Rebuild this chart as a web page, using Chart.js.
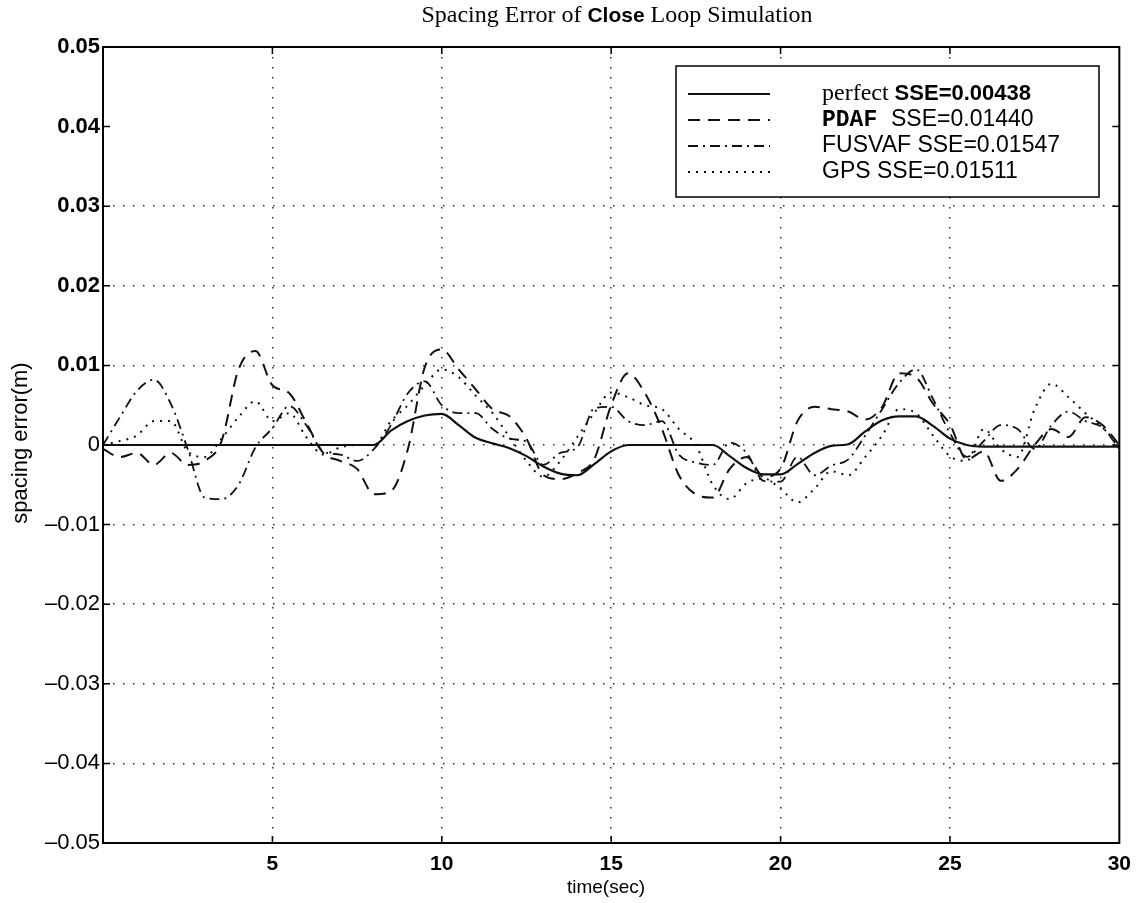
<!DOCTYPE html>
<html>
<head>
<meta charset="utf-8">
<script src="https://cdn.jsdelivr.net/npm/chart.js@4.4.1/dist/chart.umd.min.js"></script>
<style>
  html, body { margin: 0; padding: 0; background: #fff; }
  #wrap { width: 1140px; height: 903px; }
</style>
</head>
<body>
<div id="wrap"><canvas id="chart" width="1140" height="903"></canvas></div>
<script>
// time axis (sec)
const time = [0, 0.5, 1, 1.5, 2, 2.5, 3, 3.5, 4, 4.5, 5, 5.5, 6, 6.5, 7, 7.5, 8, 8.5, 9, 9.5,
  10, 10.5, 11, 11.5, 12, 12.5, 13, 13.5, 14, 14.5, 15, 15.5, 16, 16.5, 17, 17.5, 18, 18.5, 19, 19.5,
  20, 20.5, 21, 21.5, 22, 22.5, 23, 23.5, 24, 24.5, 25, 25.5, 26, 26.5, 27, 27.5, 28, 28.5, 29, 29.5, 30];

// spacing error (m)
const perfect = [0, 0, 0, 0, 0, 0, 0, 0, 0, 0, 0, 0, 0, 0, 0, 0, 0,
  0.0018, 0.0030, 0.0037, 0.0039, 0.0025, 0.0009, 0.0002, -0.0004, -0.0014, -0.0027, -0.0036, -0.0038,
  -0.0024, -0.0008, 0, 0, 0, 0, 0, 0, -0.0014, -0.0029, -0.0037, -0.0037, -0.0024, -0.0010, -0.0001,
  0.0001, 0.0017, 0.0031, 0.0036, 0.0036, 0.0024, 0.0008, 0,
  -0.0002, -0.0002, -0.0002, -0.0002, -0.0002, -0.0002, -0.0002, -0.0002, -0.0002];

const pdaf = [-0.0005, -0.0015, -0.0010, -0.0025, -0.0010, -0.0025, -0.0020, 0.0005, 0.0095, 0.0118,
  0.0075, 0.0065, 0.0028, -0.0010, -0.0020, -0.0030, -0.0062, -0.0058, -0.0005, 0.0098,
  0.0120, 0.0095, 0.0070, 0.0045, 0.0036, 0.0008, -0.0038, -0.0043, -0.0035, -0.0018,
  0.0050, 0.0090, 0.0065, 0.0020, -0.0038, -0.0062, -0.0066, -0.0030, -0.0015, -0.0040,
  -0.0030, 0.0030, 0.0048, 0.0045, 0.0042, 0.0032, 0.0048, 0.0090, 0.0085, 0.0052,
  0.0026, -0.0018, -0.0008, -0.0045, -0.0030, 0.0000, 0.0020, 0.0010, 0.0035, 0.0025, 0.0000];

const fusvaf = [0.0000, 0.0035, 0.0068, 0.0082, 0.0052, -0.0005, -0.0066, -0.0068, -0.0050, -0.0003,
  0.0021, 0.0049, 0.0025, -0.0008, -0.0012, -0.0020, -0.0005, 0.0025, 0.0065, 0.0080,
  0.0050, 0.0040, 0.0040, 0.0020, 0.0008, 0.0004, -0.0025, -0.0010, -0.0003, 0.0046,
  0.0048, 0.0030, 0.0025, 0.0030, -0.0012, -0.0022, -0.0025, 0.0003, -0.0010, -0.0045,
  -0.0046, -0.0015, -0.0038, -0.0026, -0.0018, 0.0012, 0.0045, 0.0078, 0.0095, 0.0058,
  0.0015, -0.0015, 0.0005, 0.0025, 0.0020, -0.0005, 0.0025, 0.0042, 0.0030, 0.0022, -0.0005];

const gps = [0.0000, 0.0005, 0.0012, 0.0030, 0.0030, -0.0008, -0.0015, 0.0008, 0.0035, 0.0055,
  0.0030, 0.0040, 0.0010, -0.0012, -0.0003, 0.0000, 0.0000, 0.0030, 0.0050, 0.0075,
  0.0095, 0.0085, 0.0062, 0.0040, 0.0010, -0.0020, -0.0040, -0.0020, 0.0010, 0.0040,
  0.0066, 0.0060, 0.0050, 0.0045, 0.0020, 0.0000, -0.0050, -0.0068, -0.0048, -0.0042,
  -0.0055, -0.0072, -0.0055, -0.0033, -0.0038, -0.0015, 0.0012, 0.0045, 0.0040, 0.0012,
  -0.0014, -0.0020, 0.0020, -0.0005, -0.0015, 0.0045, 0.0077, 0.0060, 0.0040, 0.0022, 0.0000];

const seriesNames = ["perfect", "PDAF", "FUSVAF", "GPS"];
const sseValues = ["0.00438", "0.01440", "0.01547", "0.01511"];

const SANS = '"Liberation Sans", Arial, sans-serif';
const SERIF = '"Liberation Serif", "Times New Roman", serif';
const MONO = '"Liberation Mono", "Courier New", monospace';

const toPoints = (ys) => time.map((t, i) => ({ x: t, y: ys[i] }));

function lineSet(label, ys, dash, width) {
  return {
    label,
    data: toPoints(ys),
    borderColor: "#111",
    borderWidth: width,
    borderDash: dash,
    pointRadius: 0,
    cubicInterpolationMode: "monotone",
    fill: false,
  };
}

// box, inner ticks, title, axis titles, legend
const matlabDecor = {
  id: "matlabDecor",
  afterDraw(chart) {
    const { ctx, chartArea: a, scales } = chart;
    ctx.save();

    // axes box
    ctx.strokeStyle = "#000";
    ctx.lineWidth = 2;
    ctx.setLineDash([]);
    ctx.strokeRect(a.left, a.top, a.right - a.left, a.bottom - a.top);

    // inner tick marks
    ctx.lineWidth = 1.5;
    ctx.beginPath();
    scales.x.ticks.forEach((t) => {
      if (t.value <= 0 || t.value >= 30) return;
      const x = scales.x.getPixelForValue(t.value);
      ctx.moveTo(x, a.top); ctx.lineTo(x, a.top + 7);
      ctx.moveTo(x, a.bottom); ctx.lineTo(x, a.bottom - 7);
    });
    scales.y.ticks.forEach((t) => {
      if (Math.abs(t.value) > 0.0499) return;
      const y = scales.y.getPixelForValue(t.value);
      ctx.moveTo(a.left, y); ctx.lineTo(a.left + 7, y);
      ctx.moveTo(a.right, y); ctx.lineTo(a.right - 7, y);
    });
    ctx.stroke();

    // title with mixed fonts
    ctx.fillStyle = "#000";
    ctx.textBaseline = "alphabetic";
    ctx.textAlign = "left";
    const titleParts = [
      ["Spacing Error of ", "24px " + SERIF],
      ["Close", "bold 21px " + SANS],
      [" Loop Simulation", "24px " + SERIF],
    ];
    let tw = 0;
    titleParts.forEach(([s, f]) => { ctx.font = f; tw += ctx.measureText(s).width; });
    let tx = 617 - tw / 2;
    titleParts.forEach(([s, f]) => { ctx.font = f; ctx.fillText(s, tx, 22); tx += ctx.measureText(s).width; });

    // axis titles
    ctx.font = "19px " + SANS;
    ctx.textAlign = "center";
    ctx.textBaseline = "middle";
    ctx.fillText("time(sec)", 606, 888);
    ctx.save();
    ctx.translate(21, 443);
    ctx.rotate(-Math.PI / 2);
    ctx.font = "22px " + SANS;
    ctx.fillText("spacing error(m)", 0, 0);
    ctx.restore();

    // legend
    const bx = 676, by = 66, bw = 423, bh = 131;
    ctx.fillStyle = "#fff";
    ctx.fillRect(bx, by, bw, bh);
    ctx.strokeStyle = "#000";
    ctx.lineWidth = 1.5;
    ctx.strokeRect(bx, by, bw, bh);
    const rows = [94, 120, 146, 172];
    chart.data.datasets.forEach((ds, i) => {
      const y = rows[i];
      ctx.strokeStyle = ds.borderColor;
      ctx.lineWidth = ds.borderWidth;
      ctx.setLineDash(ds.borderDash || []);
      ctx.beginPath();
      ctx.moveTo(688, y);
      ctx.lineTo(770, y);
      ctx.stroke();
      ctx.setLineDash([]);

      let nameFont = "23px " + SANS;
      let sseFont = "23px " + SANS;
      if (i === 0) { nameFont = "24px " + SERIF; sseFont = "bold 22px " + SANS; }
      if (i === 1) { nameFont = "bold 23px " + MONO; }
      ctx.fillStyle = "#000";
      ctx.textAlign = "left";
      ctx.textBaseline = "middle";
      let x = 822;
      ctx.font = nameFont;
      ctx.fillText(seriesNames[i] + " ", x, y);
      x += ctx.measureText(seriesNames[i] + " ").width;
      ctx.font = sseFont;
      ctx.fillText("SSE=" + sseValues[i], x, y);
    });

    ctx.restore();
  },
};

const gridDash = [1.5, 8.5];

new Chart(document.getElementById("chart"), {
  type: "line",
  data: {
    datasets: [
      lineSet(seriesNames[0], perfect, [], 2.2),
      lineSet(seriesNames[1], pdaf, [12, 8], 2),
      lineSet(seriesNames[2], fusvaf, [10, 5, 2, 5], 1.8),
      lineSet(seriesNames[3], gps, [2, 6], 2),
    ],
  },
  options: {
    responsive: false,
    animation: false,
    devicePixelRatio: 1,
    layout: { padding: { top: 47, right: 15, left: 0, bottom: 0 } },
    plugins: {
      legend: { display: false },
      title: { display: false },
      tooltip: { enabled: false },
    },
    scales: {
      x: {
        type: "linear",
        min: 0,
        max: 30,
        afterFit: (s) => { s.height = 60; },
        ticks: {
          stepSize: 5,
          padding: 9,
          autoSkip: false,
          maxRotation: 0,
          color: "#000",
          font: { family: SANS, size: 21, weight: "bold" },
          callback: (v) => (v === 0 ? "" : String(v)),
        },
        grid: {
          drawTicks: false,
          lineWidth: 1.5,
          color: (c) => (c.tick && c.tick.value > 0 && c.tick.value < 30 ? "#333" : "rgba(0,0,0,0)"),
        },
        border: { display: false, dash: gridDash },
      },
      y: {
        min: -0.05,
        max: 0.05,
        afterFit: (s) => { s.width = 103; },
        ticks: {
          stepSize: 0.01,
          padding: 3,
          color: "#000",
          font: (c) => ({
            family: SANS,
            size: 22,
            weight: c.tick && c.tick.value > 0.0001 ? "bold" : "normal",
          }),
          callback: (v) => {
            if (Math.abs(v) < 1e-9) return "0";
            const s = Math.abs(v).toFixed(2);
            return v < 0 ? "\u2013" + s : s;
          },
        },
        grid: {
          drawTicks: false,
          lineWidth: 1.5,
          color: (c) => {
            const v = c.tick ? c.tick.value : 0;
            if (Math.abs(v) > 0.0499) return "rgba(0,0,0,0)";
            if (Math.abs(v - 0.04) < 1e-6) return "rgba(0,0,0,0)";
            return "#333";
          },
        },
        border: { display: false, dash: gridDash },
      },
    },
  },
  plugins: [matlabDecor],
});
</script>
</body>
</html>
